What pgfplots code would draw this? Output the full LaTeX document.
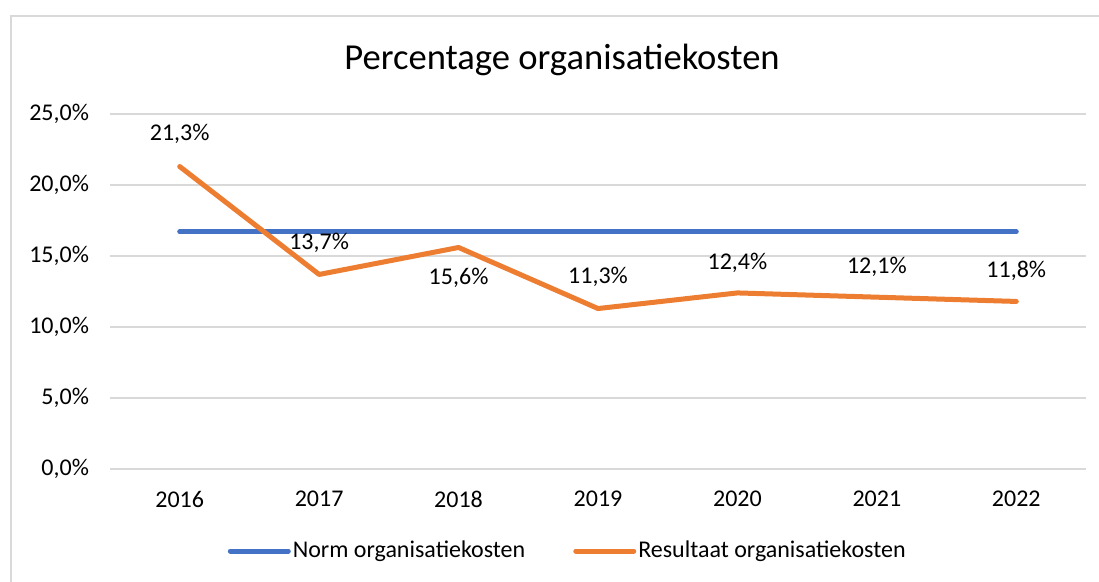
\documentclass[border=0pt]{standalone}
\usepackage{fontspec}
\setmainfont{Carlito}
\usepackage{pgfplots}
\pgfplotsset{compat=1.18}
\definecolor{normblue}{HTML}{4472C4}
\definecolor{resorange}{HTML}{ED7D31}
\definecolor{gridgrey}{HTML}{D9D9D9}

\begin{document}
\begin{tikzpicture}
% page = 1099 x 582 px at 0.5pt per px
\path[use as bounding box] (0,0) rectangle (549.5pt,-291pt);
\draw[gridgrey, line width=1pt] (5.5pt,-300pt) -- (5.5pt,-8pt) -- (560pt,-8pt);
\node[font=\fontsize{18.3}{22}\selectfont] at (281pt,-30pt) {Percentage organisatiekosten};

\begin{axis}[
    at={(55pt,-234.5pt)}, anchor=south west,
    scale only axis, width=488pt, height=177.5pt,
    xmin=-0.5, xmax=6.5, ymin=0, ymax=25,
    xtick={0,...,6},
    xticklabels={2016,2017,2018,2019,2020,2021,2022},
    ytick={0,5,...,25},
    /pgf/number format/assume math mode=true,
    yticklabel={\pgfmathprintnumber[use comma,fixed,fixed zerofill,precision=1]{\tick}\%},
    axis line style={draw=none},
    major tick length=0pt,
    ymajorgrids,
    grid style={gridgrey, line width=1pt},
    every tick label/.append style={font=\fontsize{12}{14}\selectfont, text=black},
    yticklabel style={xshift=-7pt},
    xticklabel style={yshift=-7.5pt},
    clip=false,
    legend columns=2,
    legend style={at={(0.469,-0.231)}, anchor=center, draw=none, fill=none,
        font=\fontsize{12}{14}\selectfont, inner sep=0pt,
        nodes={inner sep=1pt},
        /tikz/every even column/.append style={column sep=23pt}},
    legend image code/.code={\draw[#1, line width=2.5pt, line cap=round] (0pt,0pt) -- (29pt,0pt);},
]
\addplot[normblue, line width=2.5pt, line cap=round] coordinates {
    (0,16.7) (1,16.7) (2,16.7) (3,16.7) (4,16.7) (5,16.7) (6,16.7)
};
\addlegendentry{Norm organisatiekosten}

\addplot[resorange, line width=2.5pt, line cap=round, line join=round,
    point meta=y,
    visualization depends on={value \thisrow{dy}\as\labdy},
    nodes near coords={\pgfmathprintnumber[use comma,fixed,fixed zerofill,precision=1]{\pgfplotspointmeta}\%},
    every node near coord/.append style={anchor=center, yshift=\labdy pt, text=black,
        font=\fontsize{12}{14}\selectfont},
] table {
x y dy
0 21.3 16.5
1 13.7 16
2 15.6 -15
3 11.3 16
4 12.4 15
5 12.1 15
6 11.8 15.5
};
\addlegendentry{Resultaat organisatiekosten}
\end{axis}
\end{tikzpicture}
\end{document}
